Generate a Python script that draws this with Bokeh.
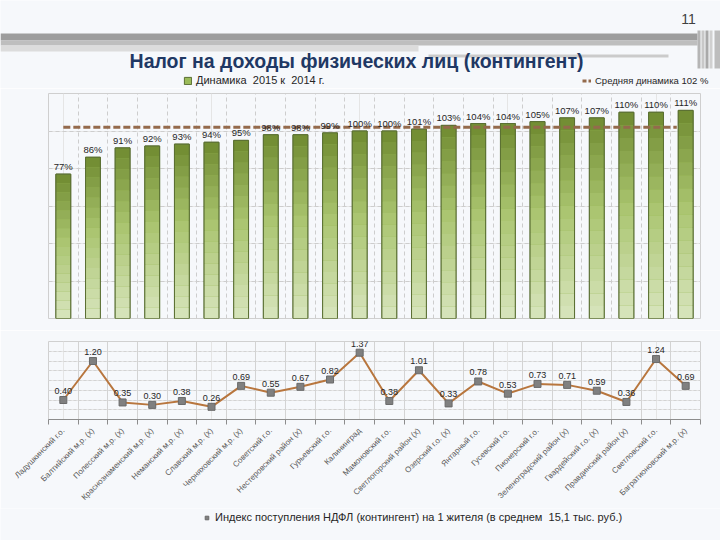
import math
from bokeh.plotting import figure
from bokeh.models import (Range1d, FixedTicker, Grid, LinearAxis, Legend, LegendItem,
                          ColumnDataSource, LabelSet)
from bokeh.layouts import column, row
from bokeh.embed import file_html
from bokeh.resources import INLINE
from bokeh.core.properties import value

# ---------------- data ----------------
districts = [
    "Ладушкинский г.о.", "Балтийский м.р. (х)", "Полесский м.р. (х)",
    "Краснознаменский м.р. (х)", "Неманский м.р. (х)", "Славский м.р. (х)",
    "Черняховский м.р. (х)", "Советский г.о.", "Нестеровский район (х)",
    "Гурьевский г.о.", "Калининград", "Мамоновский г.о.",
    "Светлогорский район (х)", "Озерский г.о. (х)", "Янтарный г.о.",
    "Гусевский г.о.", "Пионерский г.о.", "Зеленоградский район (х)",
    "Гвардейский г.о. (х)", "Правдинский район (х)", "Светловский г.о.",
    "Багратионовский м.р. (х)",
]
growth_pct = [77, 86, 91, 92, 93, 94, 95, 98, 98, 99, 100, 100, 101, 103, 104,
              104, 105, 107, 107, 110, 110, 111]
avg_growth_pct = 102
index_per_capita = [0.40, 1.20, 0.35, 0.30, 0.38, 0.26, 0.69, 0.55, 0.67, 0.82,
                    1.37, 0.38, 1.01, 0.33, 0.78, 0.53, 0.73, 0.71, 0.59, 0.36,
                    1.24, 0.69]
avg_per_capita = "15,1"

title_text = "Налог на доходы физических лиц (контингент)"
page_number = "11"
bar_legend = "Динамика  2015 к  2014 г."
avg_legend = "Средняя динамика %d %%" % avg_growth_pct
line_legend = "Индекс поступления НДФЛ (контингент) на 1 жителя (в среднем  %s тыс. руб.)" % avg_per_capita

# ---------------- style ----------------
W = 720
BG = "#f6f8fb"
FONT = "Liberation Sans"
BAR_FILL = "#9bbb59"
BAR_LINE = "#5a6f33"
AVG_COLOR = "#946a4c"
LINE_COLOR = "#b8763e"
MARK_FILL = "#808080"
MARK_LINE = "#6a6a6a"
NAN = float("nan")
n = len(districts)
xs = list(range(n))
bounds = [i - 0.5 for i in range(n + 1)]


def mix(c1, c2, t):
    a = [int(c1[i:i + 2], 16) for i in (1, 3, 5)]
    b = [int(c2[i:i + 2], 16) for i in (1, 3, 5)]
    return "#%02x%02x%02x" % tuple(round(a[j] + (b[j] - a[j]) * t) for j in range(3))


def base_fig(**kw):
    return figure(output_backend="svg", toolbar_location=None,
                  x_axis_location=None, y_axis_location=None,
                  background_fill_color=BG, border_fill_color=BG, **kw)


def leg_kw(size="11px"):
    return dict(padding=0, margin=0, border_line_alpha=0, background_fill_alpha=0,
                label_text_font=FONT, label_text_font_size=size, label_text_color="#262626",
                glyph_width=9, glyph_height=9, label_height=12, label_standoff=4)


# ---------------- header (title, page number, legends of the bar chart) ----------------
HDR_H = 88
hdr = base_fig(width=W, height=HDR_H, x_range=Range1d(0, W), y_range=Range1d(HDR_H, 0),
               min_border=0, outline_line_color=None)
hdr.grid.visible = False
hdr.quad(left=[0], right=[697], top=[33], bottom=[40], fill_color="#9d9d9d", line_color=None)
hdr.quad(left=[0], right=[697], top=[40], bottom=[45], fill_color="#bebebe", line_color=None)
hdr.quad(left=[0], right=[418], top=[45], bottom=[51], fill_color="#dcdcdc", line_color=None)
hdr.quad(left=[428], right=[668], top=[54], bottom=[57], fill_color="#cbcbcb", line_color=None)
hdr.quad(left=[697, 701, 705, 709, 714], right=[700, 704, 708, 712, 720],
         top=[30] * 5, bottom=[68] * 5,
         fill_color=["#b5b5b5", "#c8c8c8", "#a9a9a9", "#d0d0d0", "#bdbdbd"], line_color=None)
hdr.text(x=[688], y=[18], text=[page_number], text_font=value(FONT),
         text_font_size="14px", text_color="#404040",
         text_align="center", text_baseline="middle")
hdr.text(x=[356], y=[60], text=[title_text], text_font=value(FONT),
         text_font_size="19.5px", text_font_style="bold", text_color="#1f3864",
         text_align="center", text_baseline="middle")
# legend swatches (renderers with no visible mark, carrying the series styles)
sw_bar = hdr.vbar(x=[NAN], top=[NAN], width=0.5, fill_color=BAR_FILL, line_color=BAR_LINE)
sw_avg = hdr.line(x=[NAN], y=[NAN], line_color=AVG_COLOR, line_width=3, line_dash="4 2")
hdr.add_layout(Legend(items=[LegendItem(label=bar_legend, renderers=[sw_bar])],
                      location=(183, 2), **leg_kw("11px")))
hdr.add_layout(Legend(items=[LegendItem(label=avg_legend, renderers=[sw_avg])],
                      location=(582, 2), **leg_kw("9.5px")))

# ---------------- bar chart ----------------
top = base_fig(width=W, height=242, x_range=Range1d(-0.5, n - 0.5), y_range=Range1d(0, 120),
               min_border_left=48, min_border_right=20, min_border_top=5, min_border_bottom=12,
               outline_line_color="#cfcfcf")
top.add_layout(Grid(dimension=0, ticker=FixedTicker(ticks=bounds),
                    grid_line_color="#cdcdcd", grid_line_dash="4 3"))
top.add_layout(Grid(dimension=1, ticker=FixedTicker(ticks=[0, 20, 40, 60, 80, 100, 120]),
                    grid_line_color="#cdcdcd", grid_line_dash="4 3"))

top.vbar(x=xs, top=growth_pct, width=0.5, fill_color=BAR_FILL, line_color=BAR_LINE)

DARK, MID, LIGHT = "#6f8a30", "#a9c46e", "#d8e5bd"
N_SL = 16
sx, sb, st, sc = [], [], [], []
for i, v in enumerate(growth_pct):
    for k in range(N_SL):
        t = (k + 0.5) / N_SL
        sx.append(i)
        sb.append(v * k / N_SL)
        st.append(v * (k + 1) / N_SL)
        if t < 0.55:
            sc.append(mix(LIGHT, MID, t / 0.55))
        else:
            sc.append(mix(MID, DARK, (t - 0.55) / 0.45))
top.vbar(x=sx, bottom=sb, top=st, width=0.5, fill_color=sc, line_color=None)
top.vbar(x=xs, top=growth_pct, width=0.5, fill_alpha=0, line_color=BAR_LINE, line_width=1)

top.line(x=[xs[0], xs[-1] - 0.3], y=[avg_growth_pct, avg_growth_pct],
         line_color=AVG_COLOR, line_width=3, line_dash="7 3")

bar_src = ColumnDataSource(dict(x=xs, y=growth_pct, lab=["%d%%" % v for v in growth_pct]))
top.add_layout(LabelSet(x="x", y="y", text="lab", source=bar_src, text_align="center",
                        text_baseline="bottom", y_offset=2, text_font=value(FONT),
                        text_font_size="9.5px", text_color="#262626"))

# ---------------- line chart ----------------
bot = base_fig(width=W, height=178, x_range=Range1d(-0.5, n - 0.5), y_range=Range1d(0, 1.6),
               min_border_left=48, min_border_right=20, min_border_top=11, min_border_bottom=87,
               outline_line_color="#d0d0d0")
bot.add_layout(Grid(dimension=0, ticker=FixedTicker(ticks=bounds),
                    grid_line_color="#d3d3d3"))
bot.add_layout(Grid(dimension=1, ticker=FixedTicker(ticks=[0.2, 0.4, 0.6, 0.8, 1.0, 1.2, 1.4, 1.6]),
                    grid_line_color="#d3d3d3", grid_line_dash="3 2"))

xax = LinearAxis(ticker=FixedTicker(ticks=xs, minor_ticks=bounds),
                 major_label_overrides={i: name for i, name in enumerate(districts)},
                 major_label_orientation=math.pi / 4,
                 major_label_text_font=FONT, major_label_text_font_size="8px",
                 major_label_text_color="#595959", major_label_standoff=5,
                 major_tick_in=0, major_tick_out=0,
                 minor_tick_in=0, minor_tick_out=5, minor_tick_line_color="#8c8c8c",
                 axis_line_color="#8c8c8c")
bot.add_layout(xax, "below")

bot.line(x=xs, y=index_per_capita, line_color=LINE_COLOR, line_width=2)
bot.scatter(x=xs, y=index_per_capita, marker="square", size=7,
            fill_color=MARK_FILL, line_color=MARK_LINE)
line_src = ColumnDataSource(dict(x=xs, y=index_per_capita,
                                 lab=["%.2f" % v for v in index_per_capita]))
bot.add_layout(LabelSet(x="x", y="y", text="lab", source=line_src, text_align="center",
                        text_baseline="bottom", y_offset=6, text_font=value(FONT),
                        text_font_size="9px", text_color="#262626"))

# ---------------- footer (legend of the line chart) ----------------
FTR_H = 32
ftr = base_fig(width=W, height=FTR_H, x_range=Range1d(0, W), y_range=Range1d(FTR_H, 0),
               min_border=0, outline_line_color=None)
ftr.grid.visible = False
sw_mk = ftr.scatter(x=[NAN], y=[NAN], marker="square", size=8,
                    fill_color=MARK_FILL, line_color=MARK_LINE)
ftr.add_layout(Legend(items=[LegendItem(label=line_legend, renderers=[sw_mk])],
                      location=(202, 17), **leg_kw("11px")))

layout = column(row(hdr), top, bot, row(ftr), spacing=0)
open("out.html", "w").write(file_html(layout, INLINE))
